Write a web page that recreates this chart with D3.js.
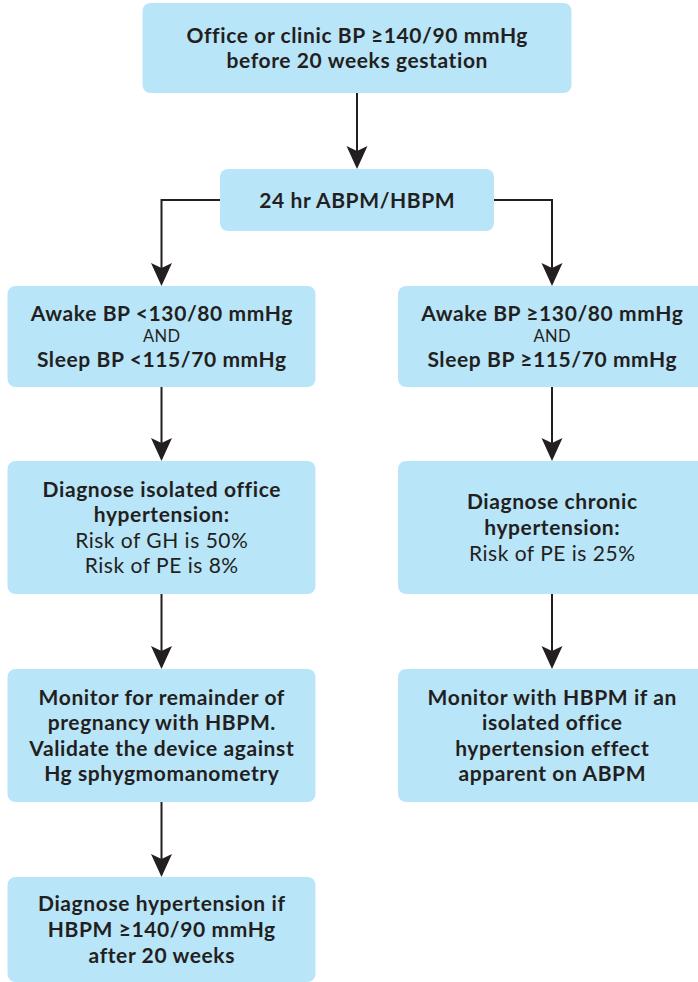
<!DOCTYPE html>
<html>
<head>
<meta charset="utf-8">
<script src="https://cdn.jsdelivr.net/npm/d3@7"></script>
<style>
  html, body { margin: 0; padding: 0; background: #fff; }
  svg { display: block; }
</style>
</head>
<body>
<div id="flow_chart"></div>
<script>
// node texts, one line per entry. "b" = bold, "r" = regular, "s" = small regular
var nodeIds = ["start", "abpm", "normal", "high", "isolated", "chronic", "monitorL", "monitorR", "final"];

var nodeLines = {
  start:    [["b", "Office or clinic BP ≥140/90 mmHg"], ["b", "before 20 weeks gestation"]],
  abpm:     [["b", "24 hr ABPM/HBPM"]],
  normal:   [["b", "Awake BP <130/80 mmHg"], ["s", "AND"], ["b", "Sleep BP <115/70 mmHg"]],
  high:     [["b", "Awake BP ≥130/80 mmHg"], ["s", "AND"], ["b", "Sleep BP ≥115/70 mmHg"]],
  isolated: [["b", "Diagnose isolated office"], ["b", "hypertension:"], ["r", "Risk of GH is 50%"], ["r", "Risk of PE is 8%"]],
  chronic:  [["b", "Diagnose chronic"], ["b", "hypertension:"], ["r", "Risk of PE is 25%"]],
  monitorL: [["b", "Monitor for remainder of"], ["b", "pregnancy with HBPM."], ["b", "Validate the device against"], ["b", "Hg sphygmomanometry"]],
  monitorR: [["b", "Monitor with HBPM if an"], ["b", "isolated office"], ["b", "hypertension effect"], ["b", "apparent on ABPM"]],
  final:    [["b", "Diagnose hypertension if"], ["b", "HBPM ≥140/90 mmHg"], ["b", "after 20 weeks"]]
};

// which row / column each node sits in
var nodeRow = { start: 0, abpm: 1, normal: 2, high: 2, isolated: 3, chronic: 3, monitorL: 4, monitorR: 4, final: 5 };
var nodeCol = { start: "mid", abpm: "mid", normal: "left", high: "right", isolated: "left", chronic: "right", monitorL: "left", monitorR: "right", final: "left" };

// connections
var links = [
  ["start", "abpm"],
  ["abpm", "normal"], ["abpm", "high"],
  ["normal", "isolated"], ["isolated", "monitorL"], ["monitorL", "final"],
  ["high", "chronic"], ["chronic", "monitorR"]
];

// ---- layout ----
var width = 698, height = 982;
var rowTop    = [3, 169, 286, 461, 669, 877];
var rowHeight = [90, 62, 101, 133, 133, 105];

var xCol = d3.scaleOrdinal()
  .domain(["left", "mid", "right"])
  .range([161.5, 357, 552]);
var boxWidth = function(id) {
  if (id === "start") return 429;
  if (id === "abpm") return 274;
  return 308;
};

var fontFamily = "Lato, 'Open Sans', sans-serif";
var lineStyle = {
  b: { size: 21, weight: 700, advance: 25.6, spacing: 0.6 },
  r: { size: 21, weight: 400, advance: 25.6, spacing: 0.5 },
  s: { size: 16.5, weight: 400, advance: 21, spacing: 0.3 }
};
var capHeight = 15;
var ink = "#231f20";
var fill = "#b9e5f9";

var svg = d3.select("#flow_chart")
  .append("svg")
  .attr("width", width)
  .attr("height", height);

var nodes = nodeIds.map(function(id) {
  var w = boxWidth(id);
  var cx = xCol(nodeCol[id]);
  var r = nodeRow[id];
  return { id: id, cx: cx, x: cx - w / 2, w: w, y: rowTop[r], h: rowHeight[r], lines: nodeLines[id] };
});
var byId = {};
nodes.forEach(function(n) { byId[n.id] = n; });

// boxes
var g = svg.selectAll("g.node")
  .data(nodes)
  .enter().append("g")
  .attr("class", "node");

g.append("rect")
  .attr("x", function(d) { return d.x; })
  .attr("y", function(d) { return d.y; })
  .attr("width", function(d) { return d.w; })
  .attr("height", function(d) { return d.h; })
  .attr("rx", 8)
  .attr("fill", fill);

g.each(function(d) {
  // baselines: first at 0, then each next line advances by its own style's advance
  var base = [0];
  for (var i = 1; i < d.lines.length; i++) {
    base.push(base[i - 1] + lineStyle[d.lines[i][0]].advance);
  }
  var total = base[base.length - 1] + capHeight;
  var top = d.y + d.h / 2 - total / 2 + capHeight;
  d3.select(this).selectAll("text")
    .data(d.lines)
    .enter().append("text")
    .attr("x", function(l) { return d.cx + lineStyle[l[0]].spacing / 2; })
    .attr("y", function(l, i) { return top + base[i]; })
    .attr("text-anchor", "middle")
    .attr("font-family", fontFamily)
    .attr("font-size", function(l) { return lineStyle[l[0]].size; })
    .attr("font-weight", function(l) { return lineStyle[l[0]].weight; })
    .attr("letter-spacing", function(l) { return lineStyle[l[0]].spacing; })
    .attr("fill", ink)
    .text(function(l) { return l[1]; });
});

// connectors
var arrowLen = 23, arrowHalf = 10.5, notch = 5;
function arrowHead(x, y) {
  return "M" + x + "," + y +
    "L" + (x - arrowHalf) + "," + (y - arrowLen) +
    "L" + x + "," + (y - arrowLen + notch) +
    "L" + (x + arrowHalf) + "," + (y - arrowLen) + "Z";
}

links.forEach(function(l) {
  var a = byId[l[0]], b = byId[l[1]];
  var tipY = b.y;
  var pts;
  if (Math.abs(a.cx - b.cx) < 2) {
    pts = [[b.cx, a.y + a.h], [b.cx, tipY - arrowLen + notch]];
  } else {
    // side exit from the box, then down
    var sy = a.y + a.h / 2;
    var sx = b.cx < a.cx ? a.x : a.x + a.w;
    pts = [[sx, sy], [b.cx, sy], [b.cx, tipY - arrowLen + notch]];
  }
  svg.append("path")
    .attr("d", d3.line()(pts))
    .attr("fill", "none")
    .attr("stroke", ink)
    .attr("stroke-width", 2);
  svg.append("path")
    .attr("d", arrowHead(b.cx, tipY))
    .attr("fill", ink);
});
</script>
</body>
</html>
